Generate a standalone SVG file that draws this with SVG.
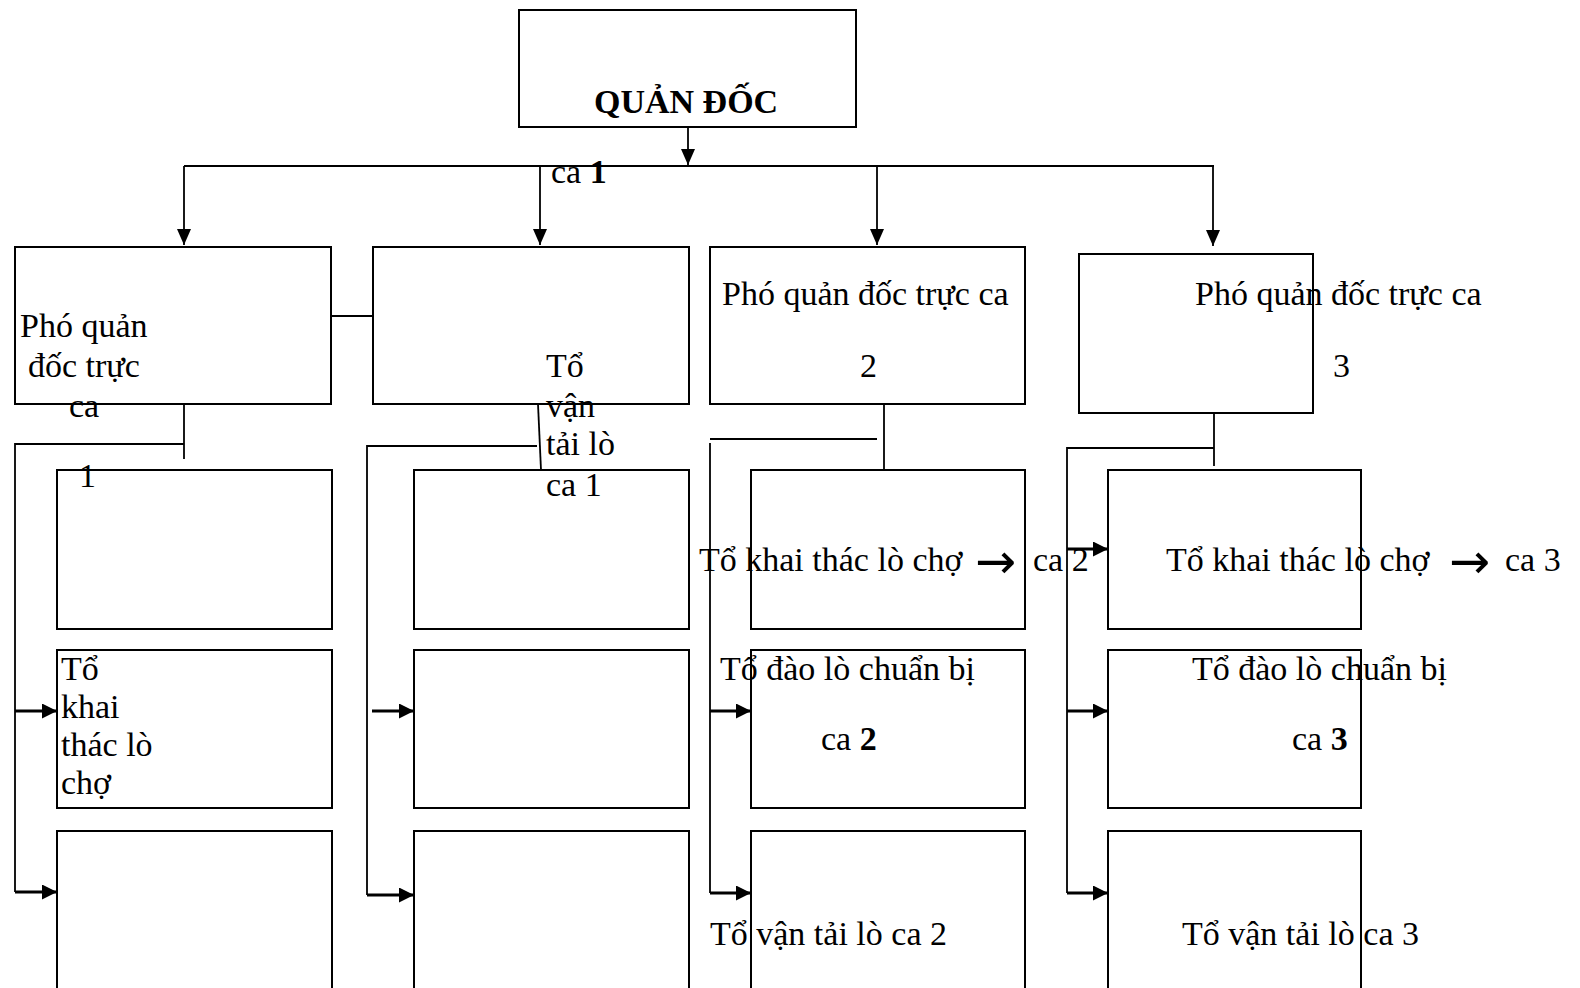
<svg xmlns="http://www.w3.org/2000/svg" width="1580" height="988" viewBox="0 0 1580 988">
<style>
.box{fill:none;stroke:#000;stroke-width:2}
.ln{fill:none;stroke:#000;stroke-width:1.8}
.th{fill:none;stroke:#000;stroke-width:3}
.t{font-family:"Liberation Serif","Times New Roman",serif;font-size:34px;fill:#000}
.b{font-weight:bold}
.arw{font-family:"DejaVu Sans",sans-serif;font-size:49px}
</style>
<defs>
<marker id="ad" markerUnits="userSpaceOnUse" markerWidth="16" markerHeight="16" refX="16" refY="7" orient="auto">
<path d="M0,0 L16,7 L0,14 z" fill="#000"/>
</marker>
<marker id="ar" markerUnits="userSpaceOnUse" markerWidth="16" markerHeight="16" refX="15" refY="7.5" orient="auto">
<path d="M0,0 L15,7.5 L0,15 z" fill="#000"/>
</marker>
</defs>

<g id="connectors">
<line class="ln" x1="688" y1="127" x2="688" y2="165" marker-end="url(#ad)"/>
<line class="ln" x1="184" y1="166" x2="1214" y2="166"/>
<line class="ln" x1="184" y1="166" x2="184" y2="245" marker-end="url(#ad)"/>
<line class="ln" x1="540" y1="166" x2="540" y2="245" marker-end="url(#ad)"/>
<line class="ln" x1="877" y1="166" x2="877" y2="245" marker-end="url(#ad)"/>
<line class="ln" x1="1213" y1="166" x2="1213" y2="246" marker-end="url(#ad)"/>
<line class="ln" x1="331" y1="316" x2="373" y2="316"/>
<!-- column A -->
<polyline class="ln" points="184,404 184,459"/>
<polyline class="ln" points="184,444 15,444 15,892"/>
<line class="th" x1="15" y1="711" x2="57" y2="711" marker-end="url(#ar)"/>
<line class="th" x1="15" y1="892" x2="57" y2="892" marker-end="url(#ar)"/>
<!-- column B -->
<line class="ln" x1="538" y1="404" x2="541" y2="470"/>
<polyline class="ln" points="537,446 367,446 367,895"/>
<line class="th" x1="372" y1="711" x2="414" y2="711" marker-end="url(#ar)"/>
<line class="th" x1="367" y1="895" x2="414" y2="895" marker-end="url(#ar)"/>
<!-- column C -->
<line class="ln" x1="884" y1="404" x2="884" y2="470"/>
<line class="ln" x1="710" y1="439" x2="877" y2="439"/>
<line class="ln" x1="710" y1="443" x2="710" y2="893"/>
<line class="th" x1="710" y1="711" x2="751" y2="711" marker-end="url(#ar)"/>
<line class="th" x1="710" y1="893" x2="751" y2="893" marker-end="url(#ar)"/>
<!-- column D -->
<line class="ln" x1="1214" y1="413" x2="1214" y2="466"/>
<polyline class="ln" points="1214,448 1067,448 1067,893"/>
<line class="th" x1="1067" y1="549" x2="1108" y2="549" marker-end="url(#ar)"/>
<line class="th" x1="1067" y1="711" x2="1108" y2="711" marker-end="url(#ar)"/>
<line class="th" x1="1067" y1="893" x2="1108" y2="893" marker-end="url(#ar)"/>
</g>

<g id="quan-doc">
<rect class="box" x="519" y="10" width="337" height="117"/>
<text class="t b" x="594" y="113">QUẢN ĐỐC</text>
</g>
<text id="ca1-label" class="t" x="551" y="183">ca <tspan class="b">1</tspan></text>

<g id="pho-ca1">
<rect class="box" x="15" y="247" width="316" height="157"/>
<text class="t" x="20" y="337">Phó quản</text>
<text class="t" x="28" y="377">đốc trực</text>
<text class="t" x="69" y="417">ca</text>
<text class="t" x="79" y="487">1</text>
</g>

<g id="to-van-tai-ca1">
<rect class="box" x="373" y="247" width="316" height="157"/>
<text class="t" x="546" y="377">Tổ</text>
<text class="t" x="546" y="417">vận</text>
<text class="t" x="546" y="455">tải lò</text>
<text class="t" x="546" y="496">ca 1</text>
</g>

<g id="pho-ca2">
<rect class="box" x="710" y="247" width="315" height="157"/>
<text class="t" x="722" y="305">Phó quản đốc trực ca</text>
<text class="t" x="860" y="377">2</text>
</g>

<g id="pho-ca3">
<rect class="box" x="1079" y="254" width="234" height="159"/>
<text class="t" x="1195" y="305">Phó quản đốc trực ca</text>
<text class="t" x="1333" y="377">3</text>
</g>

<g id="colA-boxes">
<rect class="box" x="57" y="470" width="275" height="159"/>
<rect class="box" x="57" y="650" width="275" height="158"/>
<rect class="box" x="57" y="831" width="275" height="200"/>
<text class="t" x="61" y="680">Tổ</text>
<text class="t" x="61" y="718">khai</text>
<text class="t" x="61" y="756">thác lò</text>
<text class="t" x="61" y="794">chợ</text>
</g>

<g id="colB-boxes">
<rect class="box" x="414" y="470" width="275" height="159"/>
<rect class="box" x="414" y="650" width="275" height="158"/>
<rect class="box" x="414" y="831" width="275" height="200"/>
</g>

<g id="colC-boxes">
<rect class="box" x="751" y="470" width="274" height="159"/>
<rect class="box" x="751" y="650" width="274" height="158"/>
<rect class="box" x="751" y="831" width="274" height="200"/>
<text class="t" x="699" y="571">Tổ khai thác lò chợ <tspan class="arw" x="975" y="578">→</tspan><tspan x="1033" y="571">ca 2</tspan></text>
<text class="t" x="720" y="680">Tổ đào lò chuẩn bị</text>
<text class="t" x="821" y="750">ca <tspan class="b">2</tspan></text>
<text class="t" x="710" y="945">Tổ vận tải lò ca 2</text>
</g>

<g id="colD-boxes">
<rect class="box" x="1108" y="470" width="253" height="159"/>
<rect class="box" x="1108" y="650" width="253" height="158"/>
<rect class="box" x="1108" y="831" width="253" height="200"/>
<text class="t" x="1166" y="571">Tổ khai thác lò chợ <tspan class="arw" x="1449" y="578">→</tspan><tspan x="1505" y="571">ca 3</tspan></text>
<text class="t" x="1192" y="680">Tổ đào lò chuẩn bị</text>
<text class="t" x="1292" y="750">ca <tspan class="b">3</tspan></text>
<text class="t" x="1182" y="945">Tổ vận tải lò ca 3</text>
</g>
</svg>
